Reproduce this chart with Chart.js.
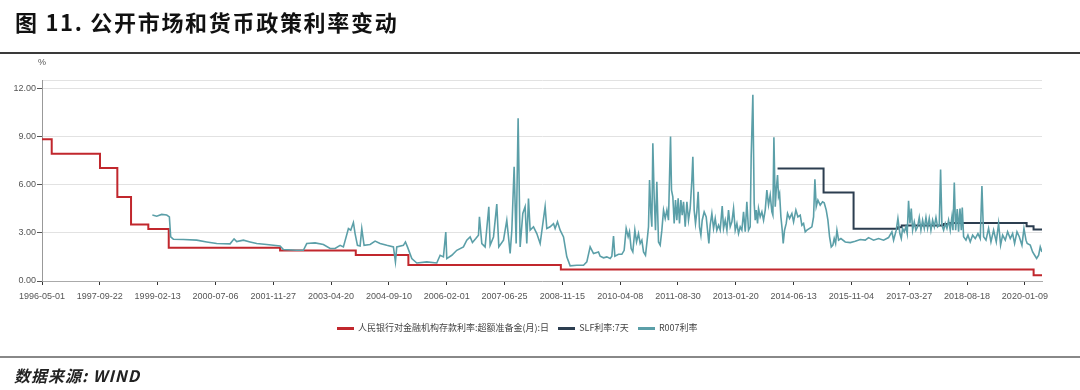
<!DOCTYPE html>
<html>
<head>
<meta charset="utf-8">
<script src="https://cdn.jsdelivr.net/npm/chart.js@4/dist/chart.umd.min.js"></script>
<style>
  body { margin: 0; background: #fff; }
  #page { position: relative; width: 1080px; height: 390px; overflow: hidden; }
  #title {
    position: absolute; left: 15px; top: 5px;
    font: bold 22px 'Noto Sans CJK SC', sans-serif;
    letter-spacing: 1.7px; color: #111;
  }
  #topRule { position: absolute; left: 0; top: 52px; width: 1080px; height: 2px; background: #3a3a3a; }
  #unit { position: absolute; left: 38px; top: 57px; font: 9px 'Liberation Sans', sans-serif; color: #555; }
  #chartCanvas { position: absolute; left: 0; top: 0; }
  #legend {
    position: absolute; left: 337px; top: 321px;
    font: 9px 'Noto Sans CJK SC', sans-serif; color: #444; white-space: nowrap;
  }
  #legend .item { margin-right: 7px; }
  #legend i { display: inline-block; width: 17px; height: 3px; vertical-align: middle; margin-right: 4px; }
  #bottomRule { position: absolute; left: 0; top: 356px; width: 1080px; height: 2px; background: #888; }
  #source {
    position: absolute; left: 14px; top: 363px;
    font: italic bold 16px 'Noto Sans CJK SC', sans-serif; color: #222;
    letter-spacing: 1px;
  }
</style>
</head>
<body>
<div id="page">
  <canvas id="chartCanvas" width="1080" height="390"></canvas>
  <div id="title">图 11. 公开市场和货币政策利率变动</div>
  <div id="topRule"></div>
  <div id="unit">%</div>
  <div id="legend"></div>
  <div id="bottomRule"></div>
  <div id="source">数据来源: WIND</div>
</div>

<script>

// =========================
// DATA  ([x, y], x = position in tick-label steps)
// =========================

const tickLabels = [
  '1996-05-01', '1997-09-22', '1999-02-13', '2000-07-06', '2001-11-27',
  '2003-04-20', '2004-09-10', '2006-02-01', '2007-06-25', '2008-11-15',
  '2010-04-08', '2011-08-30', '2013-01-20', '2014-06-13', '2015-11-04',
  '2017-03-27', '2018-08-18', '2020-01-09'
];

const axisEnd = 17.296;

const seriesNames = [
  '人民银行对金融机构存款利率:超额准备金(月):日',
  'SLF利率:7天',
  'R007利率'
];

// excess reserve rate (steps)
const reserveRate = [
  [0, 8.82], [0.168, 7.92], [1.003, 7.02], [1.303, 5.22], [1.540, 3.51],
  [1.839, 3.24], [2.192, 2.07], [4.118, 1.89], [5.427, 1.62], [6.337, 0.99],
  [8.974, 0.72], [17.151, 0.35], [17.296, 0.35]
];

// SLF 7 day (steps)
const slfRate = [
  [12.722, 7.00], [13.518, 5.50], [14.037, 3.25], [14.80, 3.35], [14.87, 3.45],
  [15.60, 3.55], [15.70, 3.60], [17.03, 3.40], [17.15, 3.20], [17.296, 3.20]
];

// R007
const r007Rate = [
  [1.909, 4.10], [1.984, 4.03], [2.070, 4.14], [2.157, 4.10], [2.203, 3.99],
  [2.226, 2.74], [2.272, 2.60], [2.445, 2.58], [2.676, 2.54], [2.849, 2.43],
  [3.022, 2.33], [3.253, 2.31], [3.322, 2.62], [3.368, 2.45], [3.483, 2.54],
  [3.599, 2.43], [3.714, 2.33], [3.887, 2.27], [4.118, 2.18], [4.175, 1.96],
  [4.406, 1.91], [4.521, 1.91], [4.579, 2.33], [4.723, 2.37], [4.867, 2.27],
  [4.983, 2.02], [5.069, 2.02], [5.156, 2.22], [5.213, 2.12], [5.300, 3.26],
  [5.340, 3.16], [5.386, 3.64], [5.415, 2.95], [5.456, 2.22], [5.502, 2.18],
  [5.531, 3.26], [5.571, 2.22], [5.675, 2.27], [5.761, 2.48], [5.848, 2.33],
  [5.963, 2.22], [6.078, 2.12], [6.113, 1.19], [6.136, 2.12], [6.251, 2.22],
  [6.286, 2.43], [6.321, 2.12], [6.396, 1.39], [6.482, 1.12], [6.655, 1.19],
  [6.828, 1.12], [6.886, 1.60], [6.943, 1.50], [6.984, 3.05], [7.001, 1.39],
  [7.088, 1.60], [7.174, 1.91], [7.289, 2.12], [7.347, 2.54], [7.405, 2.74],
  [7.445, 2.39], [7.503, 2.64], [7.549, 2.85], [7.566, 3.99], [7.607, 2.33],
  [7.664, 2.12], [7.728, 4.62], [7.751, 2.22], [7.809, 2.74], [7.866, 4.78],
  [7.901, 2.12], [7.982, 2.54], [8.039, 3.78], [8.097, 1.71], [8.126, 3.16],
  [8.166, 7.11], [8.201, 2.33], [8.235, 10.12], [8.270, 2.12], [8.316, 4.20],
  [8.356, 4.62], [8.385, 2.33], [8.414, 5.13], [8.443, 3.16], [8.501, 3.37],
  [8.558, 2.95], [8.616, 2.33], [8.702, 4.62], [8.731, 3.26], [8.789, 3.37],
  [8.847, 3.57], [8.875, 3.26], [8.916, 3.68], [8.962, 3.16], [9.020, 2.74],
  [9.077, 1.50], [9.135, 0.94], [9.250, 0.98], [9.366, 0.98], [9.423, 1.19],
  [9.481, 2.12], [9.539, 1.71], [9.625, 1.81],
  [9.654, 1.54], [9.712, 1.44], [9.769, 1.50], [9.827, 1.40], [9.856, 1.54],
  [9.885, 2.79], [9.908, 1.54], [9.971, 1.66], [10.029, 1.66], [10.069, 1.91],
  [10.104, 3.27], [10.138, 2.75], [10.161, 3.06], [10.190, 2.02], [10.219, 1.81],
  [10.254, 3.16], [10.283, 2.43], [10.317, 2.95], [10.346, 2.33], [10.375, 2.54],
  [10.404, 1.81], [10.438, 1.60], [10.467, 2.54], [10.490, 3.37], [10.508, 6.28],
  [10.531, 4.20], [10.548, 3.37], [10.565, 8.56], [10.588, 5.24], [10.611, 3.16],
  [10.634, 6.17], [10.663, 2.43], [10.692, 2.23], [10.721, 3.16], [10.750, 4.41],
  [10.779, 3.89], [10.808, 4.41], [10.836, 3.78], [10.854, 6.49], [10.871, 8.98],
  [10.888, 5.65], [10.911, 5.24], [10.934, 3.58], [10.957, 5.03], [10.980, 3.78],
  [11.003, 5.14], [11.026, 3.58], [11.050, 5.03], [11.073, 4.10], [11.096, 4.93],
  [11.125, 3.37], [11.154, 4.93], [11.182, 3.78], [11.211, 4.51], [11.240, 6.28],
  [11.257, 7.73], [11.280, 4.41], [11.303, 3.58], [11.326, 4.30], [11.349, 5.55],
  [11.372, 3.37], [11.396, 2.85], [11.419, 3.78], [11.453, 4.30], [11.488, 3.99],
  [11.511, 3.16], [11.534, 2.33], [11.557, 3.47], [11.586, 4.20], [11.615, 3.27],
  [11.644, 3.89], [11.672, 3.16], [11.701, 3.47], [11.730, 3.16], [11.765, 4.66],
  [11.788, 3.27], [11.817, 3.78], [11.846, 3.16], [11.874, 4.41], [11.903, 3.37],
  [11.932, 3.68], [11.961, 4.51], [11.990, 3.16], [12.019, 3.58], [12.047, 2.95],
  [12.076, 3.37], [12.105, 3.16], [12.134, 4.30], [12.163, 3.06], [12.191, 4.93],
  [12.220, 3.16], [12.249, 3.37], [12.266, 7.73], [12.295, 11.58],
  [12.318, 4.82], [12.336, 3.78], [12.353, 4.41], [12.376, 3.58], [12.393, 4.51],
  [12.422, 3.99], [12.451, 4.30], [12.480, 3.78], [12.509, 4.41], [12.537, 5.65],
  [12.566, 4.72], [12.595, 5.34], [12.624, 4.30], [12.641, 4.10], [12.659, 8.94],
  [12.682, 4.62], [12.699, 5.65], [12.722, 6.59], [12.739, 5.24], [12.757, 5.45],
  [12.780, 3.99], [12.803, 3.16], [12.820, 2.33], [12.843, 3.16], [12.872, 3.58],
  [12.895, 4.20], [12.930, 3.89], [12.970, 4.20], [12.999, 3.68], [13.039, 4.41],
  [13.074, 3.99], [13.114, 4.10], [13.143, 3.47], [13.172, 3.58], [13.201, 3.06],
  [13.230, 3.16], [13.276, 3.27], [13.316, 3.37], [13.345, 3.99], [13.368, 6.32],
  [13.391, 4.62], [13.420, 5.03], [13.460, 4.72], [13.500, 4.93], [13.529, 4.87],
  [13.564, 4.41], [13.593, 3.78], [13.622, 2.75], [13.651, 2.12], [13.679, 2.23],
  [13.702, 2.64], [13.726, 2.33], [13.749, 3.16], [13.778, 2.54], [13.818, 2.64],
  [13.893, 2.43], [13.979, 2.39], [14.066, 2.47], [14.152, 2.58], [14.239, 2.54],
  [14.296, 2.70], [14.383, 2.54], [14.469, 2.64], [14.556, 2.54], [14.642, 2.70],
  [14.700, 3.06], [14.729, 2.54], [14.775, 3.16], [14.804, 3.89],
  [14.838, 2.95], [14.862, 2.64], [14.885, 3.27], [14.913, 3.06], [14.942, 3.37],
  [14.965, 2.95], [14.988, 4.99], [15.012, 3.58], [15.035, 4.51], [15.058, 3.16],
  [15.087, 3.68], [15.115, 3.16], [15.144, 3.37], [15.173, 3.95], [15.202, 3.16],
  [15.231, 3.78], [15.260, 3.27], [15.289, 3.95], [15.317, 3.27], [15.346, 3.89],
  [15.375, 3.16], [15.404, 3.78], [15.433, 3.37], [15.462, 3.95], [15.490, 3.37],
  [15.519, 3.47], [15.542, 6.94], [15.565, 3.47], [15.594, 3.16], [15.623, 3.58],
  [15.652, 3.27], [15.680, 3.78], [15.709, 3.16], [15.738, 3.99], [15.756, 3.16],
  [15.779, 6.13], [15.802, 3.16], [15.830, 4.47], [15.853, 3.06], [15.877, 4.51],
  [15.900, 3.16], [15.917, 4.57], [15.940, 2.75], [15.981, 2.54], [16.015, 2.85],
  [16.055, 2.43], [16.096, 2.85], [16.142, 2.64], [16.188, 2.95], [16.228, 2.64],
  [16.257, 5.90], [16.286, 2.75], [16.327, 2.54], [16.372, 3.27], [16.413, 2.43],
  [16.459, 3.16], [16.505, 2.43], [16.545, 3.58], [16.580, 2.23], [16.615, 2.85],
  [16.661, 2.54], [16.701, 3.06], [16.747, 2.64], [16.788, 2.95], [16.822, 2.33],
  [16.863, 3.06], [16.903, 2.75], [16.949, 2.23], [16.984, 3.27], [17.019, 2.54],
  [17.040, 2.33], [17.093, 2.23], [17.134, 1.81], [17.169, 1.60], [17.203, 1.40],
  [17.238, 1.60], [17.266, 2.12], [17.296, 1.81]
];

const seriesColors = ['#c1272d', '#2c3e50', '#5b9fa8'];

const yTicks = [0, 3, 6, 9, 12];
const yTop = 12.5;


// =========================
// CHART
// =========================

const toPoints = pairs =>
  pairs.map(p => ({ x: p[0], y: p[1] }));

const chart = new Chart(
  document.getElementById('chartCanvas'),
  {
    type: 'line',

    data: {
      datasets: [
        {
          label: seriesNames[0],
          data: toPoints(reserveRate),
          borderColor: seriesColors[0],
          borderWidth: 2,
          stepped: 'before',
          pointRadius: 0,
          order: 2
        },
        {
          label: seriesNames[1],
          data: toPoints(slfRate),
          borderColor: seriesColors[1],
          borderWidth: 2,
          stepped: 'before',
          pointRadius: 0,
          order: 1
        },
        {
          label: seriesNames[2],
          data: toPoints(r007Rate),
          borderColor: seriesColors[2],
          borderWidth: 1.6,
          pointRadius: 0,
          tension: 0,
          order: 0
        }
      ]
    },

    options: {
      responsive: false,
      animation: false,
      devicePixelRatio: 1,

      layout: {
        padding: { top: 80, right: 38, bottom: 87, left: 0 }
      },

      plugins: {
        legend: { display: false },
        tooltip: { enabled: false }
      },

      scales: {
        x: {
          type: 'linear',
          min: 0,
          max: axisEnd,
          afterBuildTicks: axis => {
            axis.ticks = tickLabels.map((_, i) => ({ value: i }));
          },
          afterFit: axis => { axis.height = 22; },
          ticks: {
            autoSkip: false,
            maxRotation: 0,
            padding: 6,
            color: '#555',
            font: { family: 'Liberation Sans', size: 9 },
            callback: value => tickLabels[value]
          },
          grid: {
            drawOnChartArea: false,
            tickLength: 4,
            tickColor: '#333'
          },
          border: { color: '#aaa' }
        },

        y: {
          min: 0,
          max: yTop,
          afterBuildTicks: axis => {
            axis.ticks = yTicks.concat([yTop]).map(v => ({ value: v }));
          },
          afterFit: axis => { axis.width = 42; },
          ticks: {
            padding: 1,
            color: '#555',
            font: { family: 'Liberation Sans', size: 9 },
            callback: value => value === yTop ? '' : value.toFixed(2)
          },
          grid: {
            color: '#e2e2e2',
            tickLength: 5,
            tickColor: ctx =>
              ctx.tick && ctx.tick.value === yTop ? 'rgba(0,0,0,0)' : '#555'
          },
          border: { color: '#999' }
        }
      }
    }
  }
);


// =========================
// LEGEND
// =========================

const legendBox = document.getElementById('legend');

chart.data.datasets.forEach(ds => {
  legendBox.innerHTML += `
    <span class="item"><i style="background:${ds.borderColor}"></i>${ds.label}</span>`;
});

</script>
</body>
</html>
